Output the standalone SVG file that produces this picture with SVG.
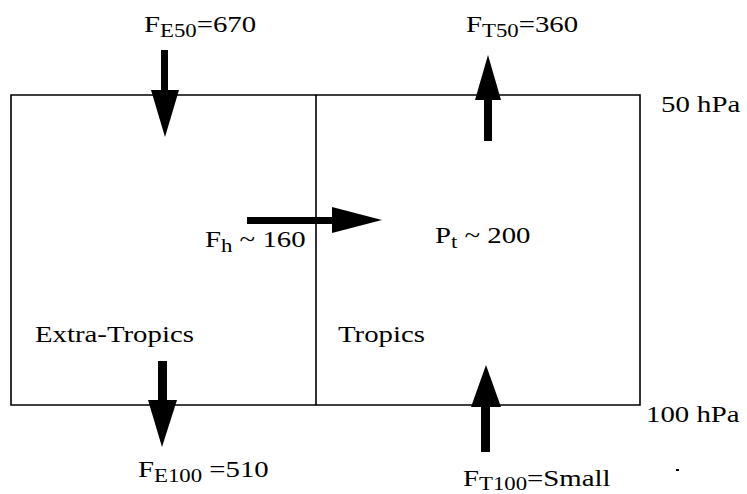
<svg xmlns="http://www.w3.org/2000/svg" width="747" height="494" viewBox="0 0 747 494">
<style>
.t{font-family:"Liberation Serif","Times New Roman",serif;font-size:24px;fill:#000}
.s{font-size:19px}
.ln{fill:none;stroke:#000;stroke-width:1.6}
.ar{fill:#000;stroke:none}
</style>
<rect x="0" y="0" width="747" height="494" fill="#fff"/>
<g id="extra-tropics-box">
<path class="ln" d="M316,95 H11 V405 H316"/>
<text class="t" transform="translate(35,342) scale(1.2,1)">Extra-Tropics</text>
</g>
<g id="tropics-box">
<path class="ln" d="M316,95 H640 V405 H316 Z"/>
<text class="t" transform="translate(338,342) scale(1.2,1)">Tropics</text>
<text class="t" transform="translate(435,243) scale(1.2,1)">P<tspan class="s" dy="5">t</tspan><tspan dy="-5"> ~ 200</tspan></text>
</g>
<g id="level-labels">
<text class="t" transform="translate(661,112) scale(1.2,1)">50 hPa</text>
<text class="t" transform="translate(646,422) scale(1.2,1)">100 hPa</text>
</g>
<g id="connectors">
<g id="arrow-FE50">
<rect class="ar" x="161" y="50" width="7" height="42"/>
<polygon class="ar" points="151,90 179,90 165,137"/>
</g>
<g id="arrow-FT50">
<polygon class="ar" points="475,100 501,100 488,55"/>
<rect class="ar" x="484" y="98" width="8" height="43"/>
</g>
<g id="arrow-Fh">
<rect class="ar" x="247" y="217" width="87" height="7"/>
<polygon class="ar" points="332,207 332,233 382,220"/>
</g>
<g id="arrow-FE100">
<rect class="ar" x="158" y="361" width="9" height="41"/>
<polygon class="ar" points="148,400 177,400 162,447"/>
</g>
<g id="arrow-FT100">
<polygon class="ar" points="471,407 501,407 486,365"/>
<rect class="ar" x="481" y="405" width="9" height="47"/>
</g>
</g>
<g id="flux-labels">
<text class="t" transform="translate(144,32) scale(1.2,1)">F<tspan class="s" dy="5">E50</tspan><tspan dy="-5">=670</tspan></text>
<text class="t" transform="translate(466,32) scale(1.2,1)">F<tspan class="s" dy="5">T50</tspan><tspan dy="-5">=360</tspan></text>
<text class="t" transform="translate(205,247) scale(1.2,1)">F<tspan class="s" dy="5">h</tspan><tspan dy="-5"> ~ 160</tspan></text>
<text class="t" transform="translate(138,477) scale(1.2,1)">F<tspan class="s" dy="5">E100</tspan><tspan dy="-5"> =510</tspan></text>
<text class="t" transform="translate(463,486) scale(1.2,1)">F<tspan class="s" dy="4">T100</tspan><tspan dy="-4">=Small</tspan></text>
</g>
<rect x="676" y="469" width="3" height="2" fill="#000"/>
</svg>
